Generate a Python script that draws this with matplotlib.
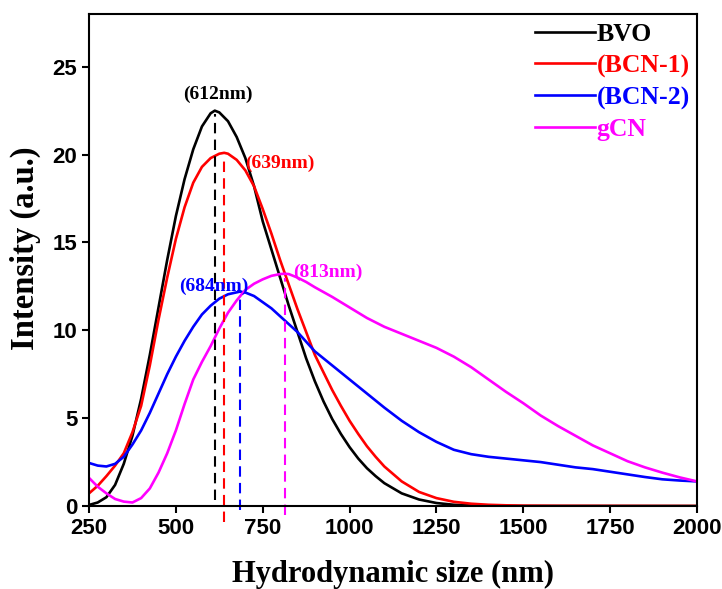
import matplotlib
matplotlib.use('Agg')
import matplotlib.pyplot as plt

# hydrodynamic size distributions (nm vs intensity)
bvo_x = [250, 275, 300, 325, 350, 375, 400, 425, 450, 475, 500, 525, 550, 575, 600, 612, 625, 650, 675,
         700, 725, 750, 775, 800, 825, 850, 875, 900, 925, 950, 975, 1000, 1025, 1050, 1075, 1100,
         1150, 1200, 1250, 1300, 1350, 1400, 1500, 2000]
bvo_y = [0.06, 0.2, 0.5, 1.2, 2.4, 4.0, 6.1, 8.6, 11.3, 14.0, 16.5, 18.6, 20.3, 21.6, 22.35, 22.5, 22.4, 21.9, 21.0,
         19.8, 18.2, 16.2, 14.6, 13.0, 11.4, 9.9, 8.4, 7.1, 5.95, 4.95, 4.1, 3.35, 2.7, 2.15, 1.7, 1.3,
         0.72, 0.37, 0.17, 0.07, 0.03, 0.01, 0.0, 0.0]

bcn1_x = [250, 275, 300, 325, 350, 375, 400, 425, 450, 475, 500, 525, 550, 575, 600, 625, 639, 650, 675,
          700, 725, 750, 775, 800, 825, 850, 875, 900, 925, 950, 975, 1000, 1025, 1050, 1075, 1100,
          1150, 1200, 1250, 1300, 1350, 1400, 1450, 1500, 1600, 2000]
bcn1_y = [0.72, 1.15, 1.7, 2.3, 3.0, 4.2, 5.7, 8.0, 10.6, 13.0, 15.2, 17.0, 18.4, 19.3, 19.8, 20.05, 20.1, 20.05, 19.7,
          19.1, 18.2, 16.9, 15.5, 14.0, 12.6, 11.2, 9.9, 8.6, 7.6, 6.6, 5.7, 4.85, 4.1, 3.4, 2.8, 2.25,
          1.4, 0.8, 0.45, 0.24, 0.13, 0.07, 0.04, 0.02, 0.01, 0.0]

bcn2_x = [250, 275, 300, 325, 350, 375, 400, 425, 450, 475, 500, 525, 550, 575, 600, 625, 650, 684,
          700, 725, 750, 775, 800, 825, 850, 875, 900, 950, 1000, 1050, 1100, 1150, 1200, 1250,
          1300, 1350, 1400, 1450, 1500, 1550, 1600, 1650, 1700, 1750, 1800, 1850, 1900, 1950, 2000]
bcn2_y = [2.45, 2.3, 2.25, 2.4, 2.8, 3.5, 4.3, 5.3, 6.4, 7.5, 8.5, 9.4, 10.2, 10.9, 11.4, 11.8, 12.05, 12.2,
          12.15, 11.95, 11.6, 11.25, 10.8, 10.35, 9.9, 9.35, 8.8, 8.0, 7.2, 6.4, 5.6, 4.85, 4.2, 3.65,
          3.2, 2.95, 2.8, 2.7, 2.6, 2.5, 2.35, 2.2, 2.1, 1.95, 1.8, 1.65, 1.52, 1.45, 1.4]

gcn_x = [250, 275, 300, 325, 350, 375, 400, 425, 450, 475, 500, 525, 550, 575, 600, 625, 650, 675,
         700, 725, 750, 775, 800, 813, 825, 850, 875, 900, 950, 1000, 1050, 1100, 1150, 1200, 1250,
         1300, 1350, 1400, 1450, 1500, 1550, 1600, 1650, 1700, 1750, 1800, 1850, 1900, 1950, 2000]
gcn_y = [1.6, 1.1, 0.72, 0.4, 0.25, 0.2, 0.45, 1.0, 1.9, 3.0, 4.3, 5.8, 7.2, 8.2, 9.1, 10.1, 11.0, 11.7,
         12.3, 12.65, 12.9, 13.1, 13.2, 13.22, 13.2, 13.0, 12.75, 12.45, 11.9, 11.3, 10.7, 10.2, 9.8, 9.4, 9.0,
         8.5, 7.9, 7.2, 6.5, 5.85, 5.15, 4.55, 4.0, 3.45, 3.0, 2.55, 2.2, 1.9, 1.63, 1.4]

names = ['BVO', '(BCN-1)', '(BCN-2)', 'gCN']
colors = ['black', 'red', 'blue', 'magenta']

# peak markers: position (nm), dashed line span, label text
peak_pos = [612, 639, 684, 813]
peak_top = [22.3, 19.9, 11.9, 13.0]
peak_bottom = [0.35, -0.9, -0.2, -0.5]
peak_labels = ['(612nm)', '(639nm)', '(684nm)', '(813nm)']

serif = 'Liberation Serif'
sans = 'Liberation Sans'

fig = plt.figure(figsize=(7.22, 5.89), dpi=100)
ax = fig.add_axes([0.1233, 0.1409, 0.8421, 0.8353])

series = [(bvo_x, bvo_y), (bcn1_x, bcn1_y), (bcn2_x, bcn2_y), (gcn_x, gcn_y)]
for (xs, ys), name, c in zip(series, names, colors):
    ax.plot(xs, ys, color=c, lw=1.9, label=name, solid_joinstyle='round')

for pos, top, bot, c in zip(peak_pos, peak_top, peak_bottom, colors):
    ax.plot([pos, pos], [bot, top], color=c, lw=1.5, dashes=(5, 3), clip_on=False)

# peak labels
lab_kw = dict(fontsize=14, fontweight='bold', family=serif)
ax.text(621, 23.45, peak_labels[0], color='black', ha='center', va='center', **lab_kw)
ax.text(699, 19.5, peak_labels[1], color='red', ha='left', va='center', **lab_kw)
ax.text(610, 12.5, peak_labels[2], color='blue', ha='center', va='center', **lab_kw)
ax.text(837, 13.3, peak_labels[3], color='magenta', ha='left', va='center', **lab_kw)

ax.set_xlim(250, 2000)
ax.set_ylim(0, 28)
ax.set_xticks(range(250, 2001, 250))
ax.set_yticks(range(0, 26, 5))
ax.tick_params(direction='out', length=5, width=1.5, labelsize=16)
for lbl in ax.get_xticklabels() + ax.get_yticklabels():
    lbl.set_fontfamily(sans)
    lbl.set_fontweight('bold')
for sp in ax.spines.values():
    sp.set_linewidth(1.5)

ax.set_xlabel('Hydrodynamic size (nm)', fontsize=22, fontweight='bold', family=serif, labelpad=15)
ax.set_ylabel('Intensity (a.u.)', fontsize=23.5, fontweight='bold', family=serif)
ax.yaxis.set_label_coords(-0.079, 0.524)

leg = ax.legend(loc='upper left', bbox_to_anchor=(0.733, 0.982), frameon=False,
                prop={'family': serif, 'weight': 'bold', 'size': 18.5},
                handlelength=2.33, handletextpad=0.08, labelspacing=0.33, borderpad=0, borderaxespad=0)
for t, c in zip(leg.get_texts(), colors):
    t.set_color(c)

fig.savefig('out.png', dpi=100)
